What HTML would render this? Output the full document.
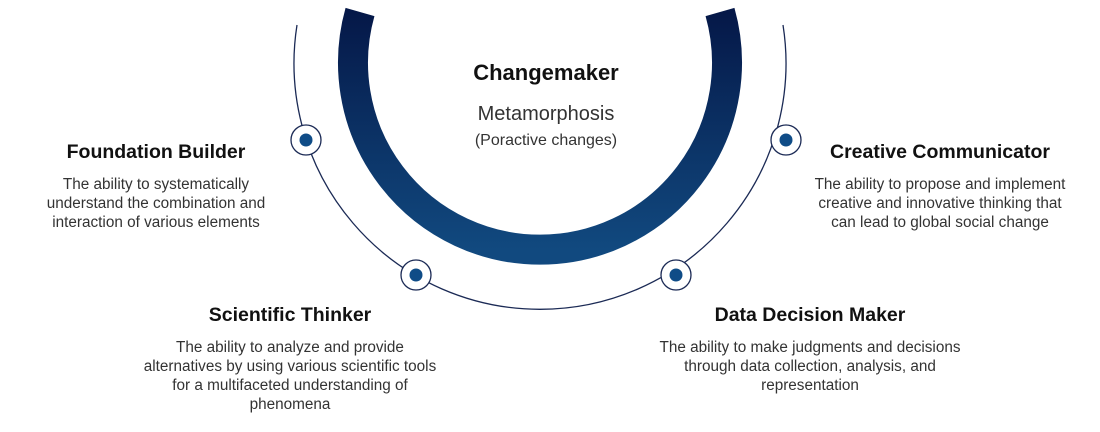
<!DOCTYPE html>
<html><head><meta charset="utf-8"><style>
body{margin:0;width:1100px;height:432px;background:#fff;position:relative;overflow:hidden;font-family:"Liberation Sans",sans-serif}
.t{position:absolute;text-align:center;font-weight:bold;font-size:19.5px;color:#111}
.d{position:absolute;text-align:center;font-size:15.3px;line-height:19px;color:#333}
svg{position:absolute;left:0;top:0}
</style></head><body>
<svg width="1100" height="432">
<defs><linearGradient id="g" x1="0" y1="0" x2="0" y2="1"><stop offset="0" stop-color="#051848"/><stop offset="1" stop-color="#11497f"/></linearGradient></defs>
<path d="M297 25 A246 246 0 1 0 783 25" fill="none" stroke="#1b2a55" stroke-width="1.3"/>
<path d="M360 12 A187 187 0 1 0 720 12" fill="none" stroke="url(#g)" stroke-width="30"/>
<g fill="#fff" stroke="#1b2a55" stroke-width="1.3">
<circle cx="306" cy="140" r="15"/><circle cx="786" cy="140" r="15"/>
<circle cx="416" cy="275" r="15"/><circle cx="676" cy="275" r="15"/></g>
<g fill="#0f4c87">
<circle cx="306" cy="140" r="6.5"/><circle cx="786" cy="140" r="6.5"/>
<circle cx="416" cy="275" r="6.5"/><circle cx="676" cy="275" r="6.5"/></g>
</svg>
<div class="t" style="left:400px;width:292px;top:60px;font-size:22px">Changemaker</div>
<div style="position:absolute;left:400px;width:292px;top:103px;text-align:center;font-size:20px;color:#333">Metamorphosis</div>
<div style="position:absolute;left:400px;width:292px;top:132px;text-align:center;font-size:16px;color:#333">(Poractive changes)</div>
<div class="t" style="left:0px;width:312px;top:141px">Foundation Builder</div>
<div class="d" style="left:0px;width:312px;top:175px">The ability to systematically<br>understand the combination and<br>interaction of various elements</div>
<div class="t" style="left:790px;width:300px;top:141px">Creative Communicator</div>
<div class="d" style="left:790px;width:300px;top:175px">The ability to propose and implement<br>creative and innovative thinking that<br>can lead to global social change</div>
<div class="t" style="left:130px;width:320px;top:304px">Scientific Thinker</div>
<div class="d" style="left:110px;width:360px;top:338px">The ability to analyze and provide<br>alternatives by using various scientific tools<br>for a multifaceted understanding of<br>phenomena</div>
<div class="t" style="left:650px;width:320px;top:304px">Data Decision Maker</div>
<div class="d" style="left:620px;width:380px;top:338px">The ability to make judgments and decisions<br>through data collection, analysis, and<br>representation</div>
</body></html>
